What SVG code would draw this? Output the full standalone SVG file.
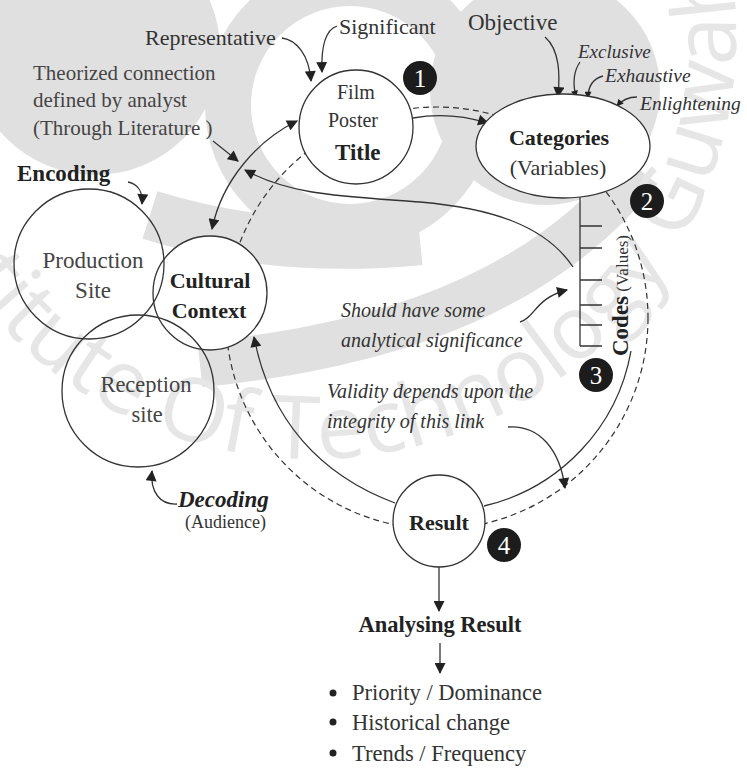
<svg xmlns="http://www.w3.org/2000/svg" width="747" height="769" viewBox="0 0 747 769">
  <style>
    .wm { fill: #e0e0e0; }
    .wmband { fill: none; stroke: #e0e0e0; }
    .wmtext { font-family: "Open Sans", "DejaVu Sans", sans-serif; font-size: 88px; fill: #e6e6e6; }
    .node { fill: #ffffff; stroke: #333333; stroke-width: 1.3; }
    .ring { fill: none; stroke: #333333; stroke-width: 1.3; }
    .badge { fill: #1c1c1c; }
    .badge-num { font-family: "Liberation Serif", serif; font-size: 25px; fill: #ffffff; text-anchor: middle; }
    .t { font-family: "Liberation Serif", serif; fill: #333333; }
    .b { font-weight: bold; fill: #222222; }
    .i { font-style: italic; }
    .gray { fill: #444444; }
    .mid { text-anchor: middle; }
    .line { fill: none; stroke: #333333; stroke-width: 1.3; }
    .dash { fill: none; stroke: #333333; stroke-width: 1.2; stroke-dasharray: 6 4; }
  </style>
  <defs>
    <marker id="ah" viewBox="0 0 10 10" refX="9" refY="5" markerWidth="12" markerHeight="11" markerUnits="userSpaceOnUse" orient="auto-start-reverse">
      <path d="M0,0 L10,5 L0,10 z" fill="#222222"/>
    </marker>
    <marker id="ahs" viewBox="0 0 10 10" refX="9" refY="5" markerWidth="8" markerHeight="7" markerUnits="userSpaceOnUse" orient="auto-start-reverse">
      <path d="M0,0 L10,5 L0,10 z" fill="#222222"/>
    </marker>
    <path id="wmArc" d="M-106.5,113.8 A425,425 0 0 0 730.5,-33.8"/>
  </defs>

  <rect width="747" height="769" fill="#ffffff"/>

  <!-- faint background emblem -->
  <g id="watermark">
    <circle class="wm" cx="95" cy="50" r="125"/>
    <circle class="wmband" cx="350" cy="105" r="122" stroke-width="46"/>
    <circle class="wm" cx="545" cy="90" r="115"/>
    <path class="wmband" stroke-width="50" d="M150,215 C230,240 320,250 420,240"/>
    <path class="wmband" stroke-width="45" d="M200,365 C330,350 520,320 640,170"/>
    <text class="wmtext"><textPath href="#wmArc" startOffset="62">Institute Of Technology Guwahati</textPath></text>
  </g>

  <!-- connectors -->
  <g id="connectors">
    <circle class="dash" cx="437" cy="318" r="211"/>
    <path class="line" d="M282,38 C296,40 309,54 311,81" marker-end="url(#ah)"/>
    <path class="line" d="M337,26 C325,30 321,46 322,72" marker-end="url(#ah)"/>
    <path class="line" d="M213,141 L238,161" marker-end="url(#ah)"/>
    <path class="line" d="M128,182 C138,184 143,192 142,204" marker-end="url(#ah)"/>
    <path class="line" d="M212,229 C222,180 258,140 297,121" marker-start="url(#ah)" marker-end="url(#ah)"/>
    <path class="line" d="M413,118 C440,113 465,116 488,123" marker-end="url(#ah)"/>
    <path class="line" d="M573,267 C545,225 490,208 420,202 C340,196 290,195 245,170" marker-end="url(#ah)"/>
    <path class="line" d="M395,503 C320,475 270,420 254,337" marker-end="url(#ah)"/>
    <path class="line" d="M631,351 A194,194 0 0 1 484,506"/>
    <path class="line" d="M508,427 C540,425 560,450 565,488" marker-end="url(#ah)"/>
    <path class="line" d="M520,322 C535,318 535,298 567,290" marker-end="url(#ah)"/>
    <path class="line" d="M545,37 C560,50 560,75 558,97" marker-end="url(#ah)"/>
    <path class="line" d="M580,62 C573,72 573,85 576,97" marker-end="url(#ahs)"/>
    <path class="line" d="M603,76 C592,79 588,88 588,98" marker-end="url(#ahs)"/>
    <path class="line" d="M637,97 C628,97 622,100 617,106" marker-end="url(#ahs)"/>
    <path class="line" d="M177,504 C160,505 150,492 152,471" marker-end="url(#ah)"/>
    <path class="line" d="M382,93 C395,100 395,115 386,122" marker-end="url(#ahs)"/>
    <path class="line" d="M320,128 C312,140 318,155 335,157" marker-end="url(#ahs)"/>
    <path class="line" d="M439,567 L439,611" marker-end="url(#ah)"/>
    <path class="line" d="M440,643 L440,673" marker-end="url(#ah)"/>
  </g>

  <!-- node: film poster title -->
  <g id="film">
    <circle class="node" cx="356" cy="127" r="57"/>
    <text class="t" x="337" y="99" font-size="20">Film</text>
    <text class="t" x="328" y="127" font-size="20">Poster</text>
    <text class="t b" x="335" y="160" font-size="23">Title</text>
  </g>

  <!-- node: categories -->
  <g id="categories">
    <ellipse class="node" cx="563" cy="146" rx="87" ry="52"/>
    <text class="t b mid" x="559" y="145" font-size="22">Categories</text>
    <text class="t mid" x="558" y="175" font-size="22">(Variables)</text>
  </g>

  <!-- node: codes -->
  <g id="codes">
    <path class="line" d="M580,197 L580,346 M580,226 L602,226 M580,248 L602,248 M580,280 L602,280 M580,305 L602,305 M580,325 L602,325 M580,346 L602,346"/>
    <text class="t b" transform="translate(628,356) rotate(-90)" font-size="23">Codes<tspan font-weight="normal" fill="#333333" font-size="17"> (Values)</tspan></text>
  </g>

  <!-- node: cultural context (white disc hides the dashed loop) -->
  <g id="cultural">
    <circle class="node" cx="210" cy="293" r="57"/>
    <text class="t b mid" x="210" y="288" font-size="22">Cultural</text>
    <text class="t b mid" x="209" y="318" font-size="22">Context</text>
  </g>

  <!-- node: production site (outline drawn over the overlap) -->
  <g id="production">
    <circle class="ring" cx="89" cy="264" r="75"/>
    <text class="t gray mid" x="93" y="268" font-size="23">Production</text>
    <text class="t gray mid" x="93" y="298" font-size="23">Site</text>
  </g>

  <!-- node: reception site -->
  <g id="reception">
    <circle class="ring" cx="138" cy="391" r="76"/>
    <text class="t gray mid" x="146" y="392" font-size="22.5">Reception</text>
    <text class="t gray mid" x="147" y="422" font-size="22.5">site</text>
  </g>

  <!-- node: result -->
  <g id="result">
    <circle class="node" cx="439" cy="521" r="46"/>
    <text class="t b mid" x="439" y="530" font-size="22">Result</text>
  </g>

  <!-- step badges -->
  <g id="badge1"><circle class="badge" cx="420" cy="78" r="17"/><text class="badge-num" x="420" y="87">1</text></g>
  <g id="badge2"><circle class="badge" cx="647" cy="201" r="17"/><text class="badge-num" x="647" y="210">2</text></g>
  <g id="badge3"><circle class="badge" cx="596" cy="375" r="17"/><text class="badge-num" x="596" y="384">3</text></g>
  <g id="badge4"><circle class="badge" cx="504" cy="545" r="17"/><text class="badge-num" x="504" y="554">4</text></g>

  <!-- annotations -->
  <g id="labels">
    <text class="t" x="145" y="45" font-size="22">Representative</text>
    <text class="t" x="339" y="34" font-size="22">Significant</text>
    <text class="t" x="468" y="30" font-size="23">Objective</text>
    <text class="t i" x="578" y="58" font-size="19">Exclusive</text>
    <text class="t i" x="605" y="82" font-size="19.5">Exhaustive</text>
    <text class="t i" x="640" y="110" font-size="19.5">Enlightening</text>
    <text class="t gray" x="33" y="80" font-size="21">Theorized connection</text>
    <text class="t gray" x="33" y="107" font-size="21">defined by analyst</text>
    <text class="t gray" x="33" y="135" font-size="21">(Through Literature )</text>
    <text class="t b" x="17" y="181" font-size="23">Encoding</text>
    <text class="t b i" x="178" y="507" font-size="23">Decoding</text>
    <text class="t" x="185" y="528" font-size="18">(Audience)</text>
    <text class="t i" x="341" y="317" font-size="20">Should have some</text>
    <text class="t i" x="341" y="347" font-size="20">analytical significance</text>
    <text class="t i" x="327" y="398" font-size="20">Validity depends upon the</text>
    <text class="t i" x="327" y="428" font-size="20">integrity of this link</text>
  </g>

  <!-- analysis outcome -->
  <g id="analysis">
    <text class="t b mid" x="440" y="632" font-size="22.5">Analysing Result</text>
    <circle cx="333" cy="693" r="3.5" fill="#222222"/>
    <circle cx="333" cy="722" r="3.5" fill="#222222"/>
    <circle cx="333" cy="753" r="3.5" fill="#222222"/>
    <text class="t" x="352" y="700" font-size="22.5">Priority / Dominance</text>
    <text class="t" x="352" y="730" font-size="22.5">Historical change</text>
    <text class="t" x="352" y="761" font-size="22.5">Trends / Frequency</text>
  </g>
</svg>
